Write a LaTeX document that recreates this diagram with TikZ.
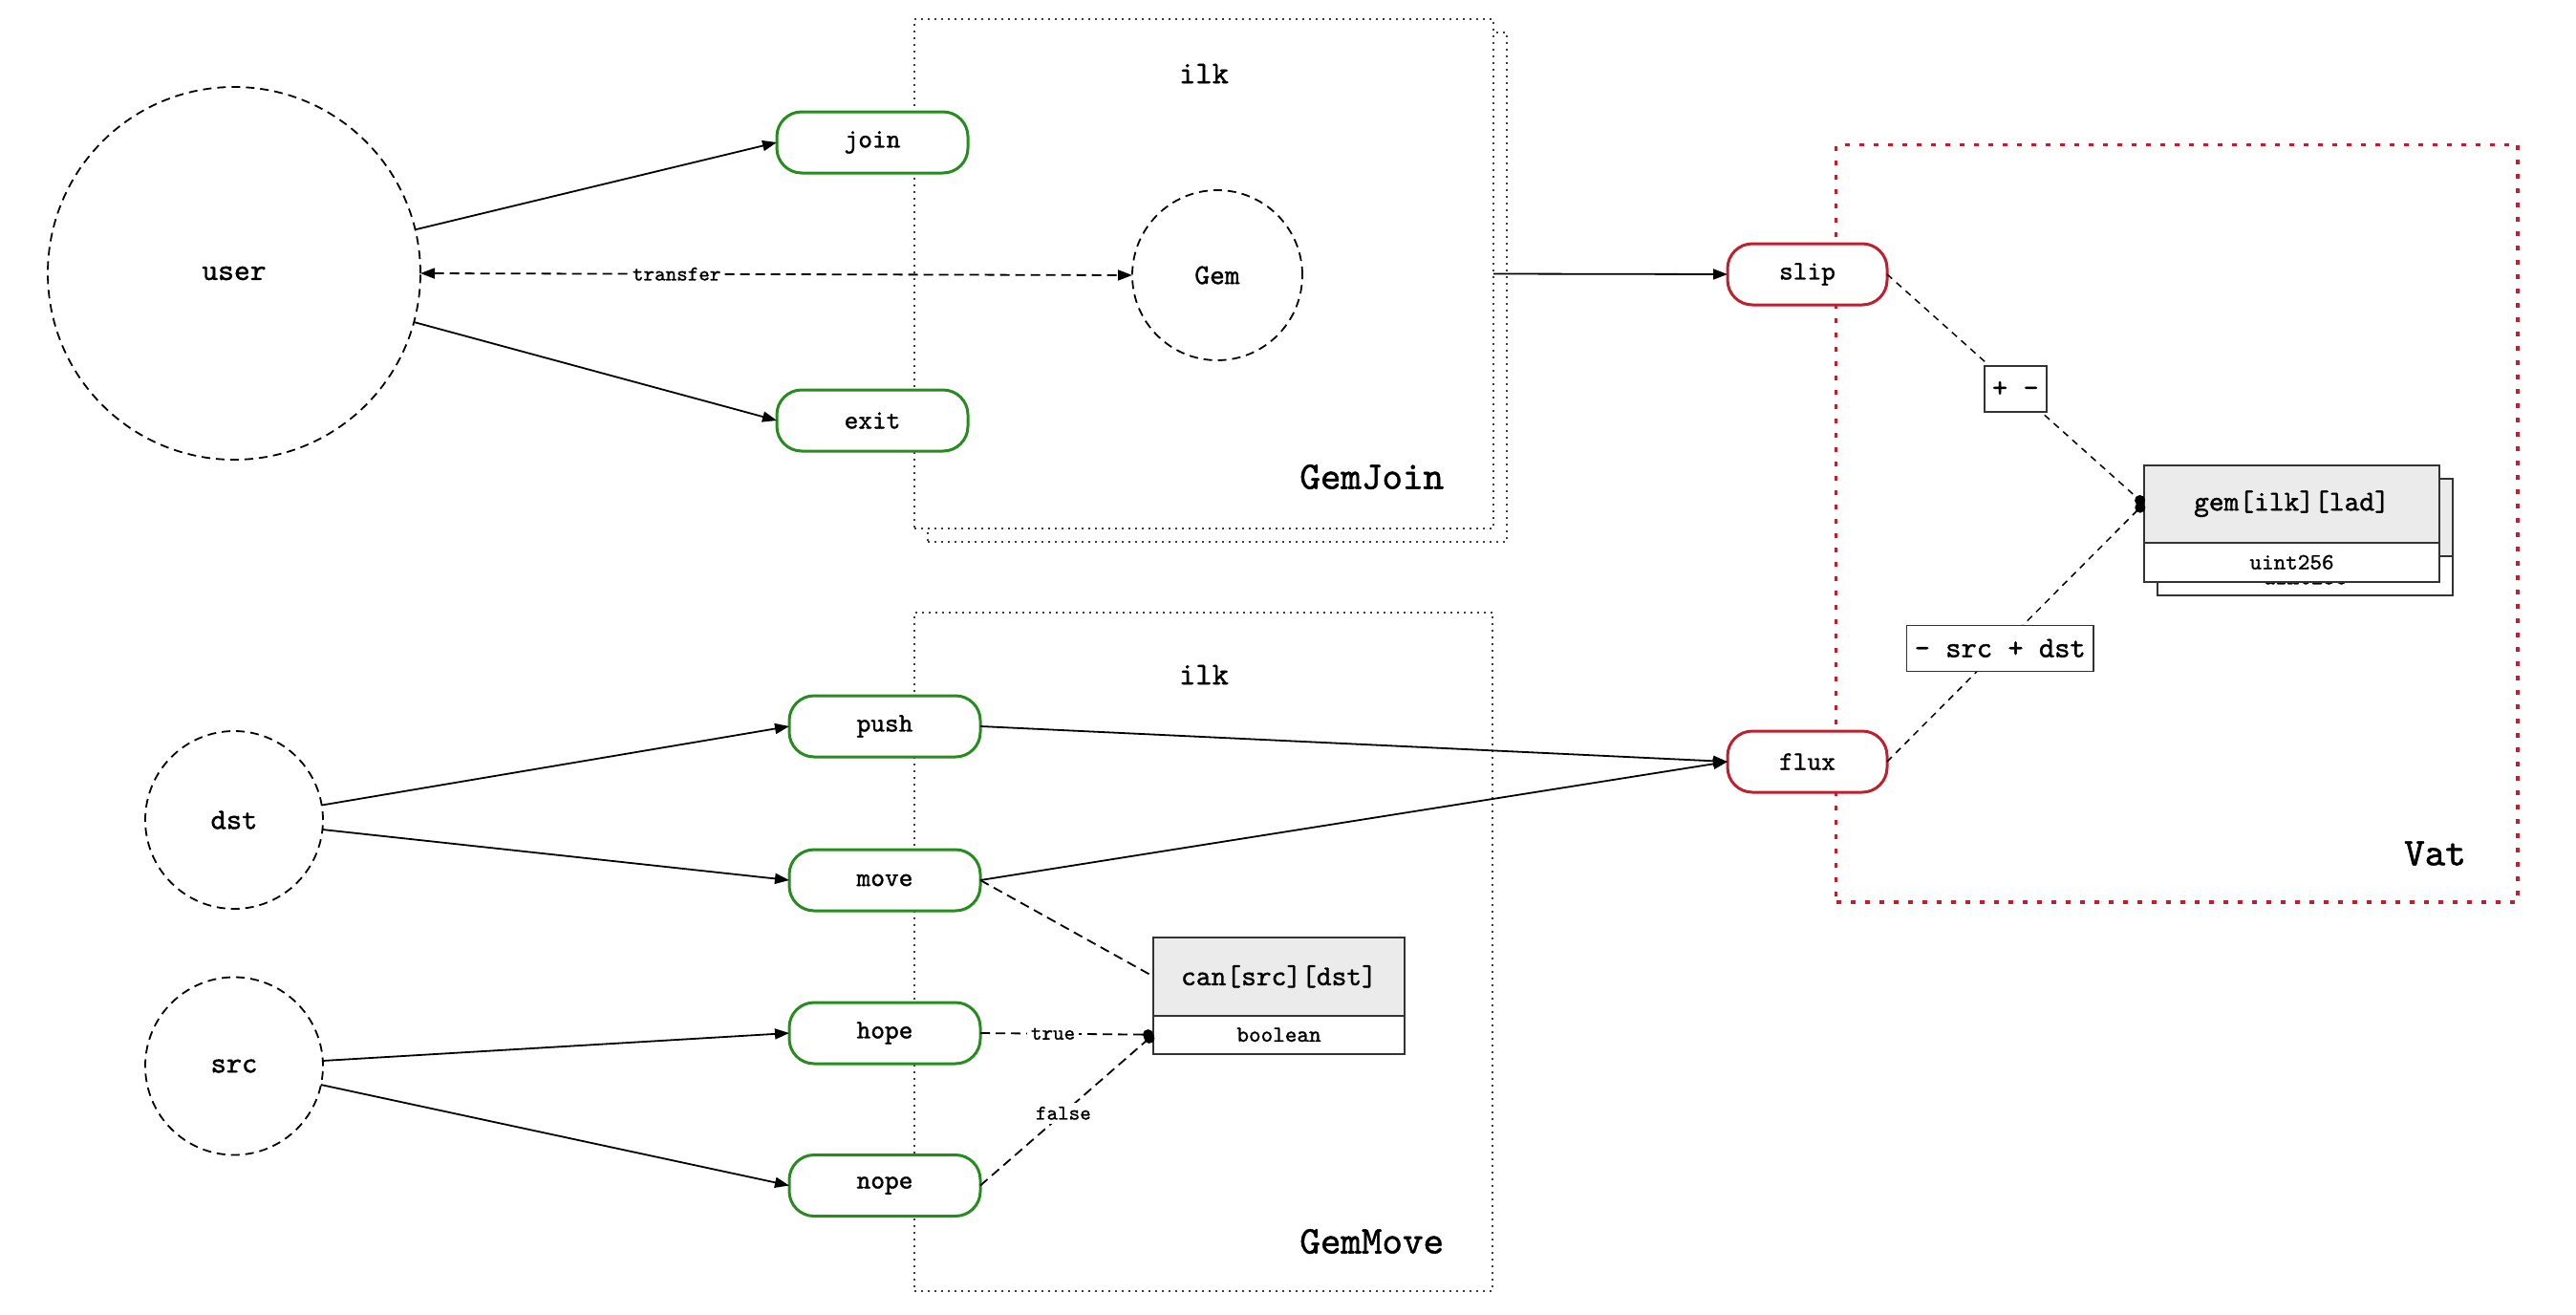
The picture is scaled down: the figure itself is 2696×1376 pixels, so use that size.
\documentclass[tikz,border=0pt]{standalone}
\usepackage{fontspec}
\newfontfamily\cour{lmmono10-regular.otf}[FakeBold=1.2]
\usetikzlibrary{arrows.meta}
\definecolor{grn}{RGB}{38,140,30}
\definecolor{rd}{RGB}{192,32,46}
\definecolor{hdr}{RGB}{235,235,235}
\definecolor{bdr}{RGB}{51,51,51}
\definecolor{dotc}{RGB}{60,60,60}
\newcommand\fs[1]{\fontsize{#1}{#1}\selectfont\cour}
\begin{document}
\begin{tikzpicture}[x=1pt,y=-1pt,
  every node/.style={inner sep=0pt,outer sep=0pt,font=\fs{28}},
  actor/.style={circle,draw,dash pattern=on 9pt off 6pt,line width=1.8pt},
  fn/.style={draw=grn,line width=3pt,rounded corners=26pt,minimum width=200pt,minimum height=64pt,fill=white},
  vfn/.style={draw=rd,line width=3pt,rounded corners=26pt,minimum width=167pt,minimum height=64pt,fill=white},
  cont/.style={draw=dotc,line width=2pt,dash pattern=on 2pt off 5pt,fill=white},
  vat/.style={draw=rd,line width=3.3pt,dash pattern=on 5pt off 10pt},
  arr/.style={-{Triangle[length=15pt,width=11pt]},line width=1.8pt},
  darr/.style={{Triangle[length=15pt,width=11pt]}-{Triangle[length=15pt,width=11pt]},line width=1.8pt,dash pattern=on 10pt off 6pt},
  dline/.style={line width=1.8pt,dash pattern=on 10pt off 6pt},
  tline/.style={line width=1.5pt,dash pattern=on 7pt off 6pt},
  dot/.style={-{Circle[length=11pt]}},
  lbl/.style={fill=white,inner sep=4pt,font=\fs{22}},
  lblbox/.style={solid,draw=bdr,line width=1.5pt,fill=white,minimum height=48pt,inner xsep=8pt,font=\fs{31}},
  hdrbox/.style={draw=bdr,line width=2pt,fill=hdr,font=\fs{30}},
  rowbox/.style={draw=bdr,line width=2pt,fill=white,font=\fs{24}},
  title/.style={font=\fs{41}}
]
\useasboundingbox (0,0) rectangle (2696,1376);
\fill[white] (0,0) rectangle (2696,1376);

% containers
\node[cont,minimum width=606pt,minimum height=533pt] (gemjoinback) at (1274,300.5) {};
\node[cont,minimum width=606pt,minimum height=533pt] (gemjoin) at (1260,286.5) {};
\node[cont,minimum width=605.6pt,minimum height=710pt] (gemmove) at (1259.5,995.7) {};
\node[vat,minimum width=713.3pt,minimum height=792.3pt] (vat) at (2278.35,547.85) {};

\node[font=\fs{33}] (ilka) at (1260,77) {ilk};
\node[font=\fs{33}] (ilkb) at (1260,706) {ilk};
\node[title] (gjt) at (1435.7,499) {GemJoin};
\node[title] (gmt) at (1435.7,1299) {GemMove};
\node[title] (vatt) at (2548.5,893) {Vat};

% actors
\node[actor,minimum size=390pt,font=\fs{32}] (user) at (245,286) {user};
\node[actor,minimum size=178pt,font=\fs{30}] (gem) at (1274,288) {Gem};
\node[actor,minimum size=186pt,font=\fs{31}] (dst) at (245,858) {dst};
\node[actor,minimum size=186pt,font=\fs{31}] (src) at (245,1115.5) {src};

% functions
\node[fn] (join) at (913,149) {join};
\node[fn] (exit) at (913,440) {exit};
\node[fn] (push) at (926,760) {push};
\node[fn] (move) at (926,921) {move};
\node[fn] (hope) at (926,1081) {hope};
\node[fn] (nope) at (926,1240.5) {nope};
\node[vfn] (slip) at (1891.5,287) {slip};
\node[vfn] (flux) at (1891.5,797) {flux};

% tables
\node[hdrbox,minimum width=263pt,minimum height=82pt] (can) at (1338.5,1021.7) {can[src][dst]};
\node[rowbox,minimum width=263pt,minimum height=40pt,anchor=north] (cant) at (can.south) {boolean};

\node[hdrbox,minimum width=309.6pt,minimum height=81pt] (gemhb) at (2412.5,541.2) {gem[ilk][lad]};
\node[rowbox,minimum width=309.6pt,minimum height=41.3pt,anchor=north] (gemtb) at (gemhb.south) {};
\node[font=\fs{24}] (gemtbt) at (2412.5,604) {uint256};
\node[hdrbox,minimum width=309.6pt,minimum height=81pt] (gemh) at (2398.5,527.2) {gem[ilk][lad]};
\node[rowbox,minimum width=309.6pt,minimum height=41.3pt,anchor=north] (gemt) at (gemh.south) {uint256};

% edges
\draw[arr] (user) -- (join.west);
\draw[arr] (user) -- (exit.west);
\draw[darr] (user.east) -- node[lbl,pos=0.36]{transfer} (gem.west);
\draw[arr] (gemjoin.east) -- (slip.west);
\draw[arr] (dst) -- (push.west);
\draw[arr] (dst) -- (move.west);
\draw[arr] (src) -- (hope.west);
\draw[arr] (src) -- (nope.west);
\draw[arr] (push.east) -- (flux.west);
\draw[arr] (move.east) -- (flux.west);
\draw[dline] (move.east) -- (can.west);
\draw[dline,dot] (hope.east) -- node[lbl,pos=0.42]{true} (cant.west);
\draw[dline,dot] (nope.east) -- node[lbl,pos=0.48]{false} (cant.west);
\draw[tline,dot] (slip.east) -- node[lblbox,pos=0.5]{+ -} (gemh.west);
\draw[tline,dot] (flux.east) -- node[lblbox,pos=0.44]{- src + dst} (gemh.west);
\end{tikzpicture}
\end{document}
